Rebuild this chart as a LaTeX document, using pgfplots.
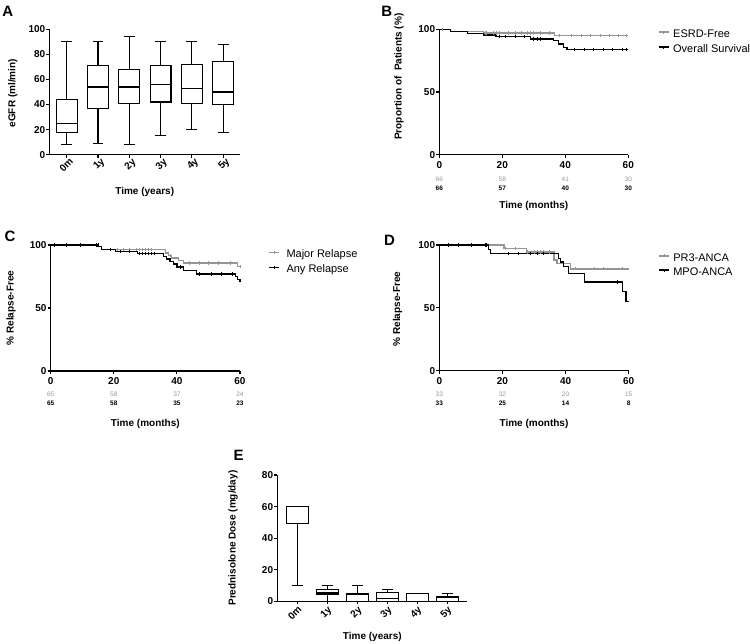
\documentclass[border=0pt]{standalone}
\usepackage{fontspec}
\setmainfont{Liberation Sans}
\usepackage{pgfplots}
\pgfplotsset{compat=1.18}
\usepgfplotslibrary{statistics}
\definecolor{kmgray}{RGB}{150,150,150}
\tikzset{
  nrg/.style={font=\fontsize{6.5}{7}\selectfont, text=kmgray},
  nrb/.style={font=\bfseries\fontsize{6.5}{7}\selectfont, text=black},
}
\pgfplotsset{
  gp/.style={scale only axis, anchor=south west,
    axis x line*=bottom, axis y line*=left,
    axis line style={line width=1.1pt},
    tick style={black, line width=1.1pt},
    tick align=outside, major tick length=3pt,
    tick label style={font=\bfseries\fontsize{10}{11}\selectfont},
    yticklabel style={inner sep=1pt},
    label style={font=\bfseries\fontsize{10}{11}\selectfont},
    /pgf/number format/assume math mode=true,
    clip=false},
  km/.style={gp, xmin=0, xmax=60, ymin=0, ymax=100,
    xtick={0,20,40,60}, ytick={0,50,100},
    xlabel={Time (months)},
    legend cell align=left,
    legend image code/.code={\draw[##1] (0pt,3pt)--(10pt,3pt); \draw[##1, line width=0.7pt] (5pt,1.5pt)--(5pt,4.5pt);},
    legend style={draw=none, fill=none, anchor=north west, inner sep=0pt,
      font=\fontsize{11}{12}\selectfont, row sep=5.7pt, column sep=3.7pt,
      nodes={inner sep=0pt, text height=7pt, text depth=2pt}}},
  kmblack/.style={black, line width=1.3pt, const plot},
  kmgrayl/.style={kmgray, line width=1.3pt, const plot},
  cb/.style={only marks, mark=|, mark size=1.6pt, black, mark options={line width=0.7pt}, forget plot},
  cg/.style={only marks, mark=|, mark size=1.6pt, kmgray, mark options={line width=0.7pt}, forget plot},
  bx/.style={black, line width=1.1pt, fill=none, boxplot/draw direction=y},
}
\begin{document}
\begin{tikzpicture}
% ---------------- A ----------------
\begin{axis}[gp, at={(49.5pt,489.3pt)}, width=190.5pt, height=125.4pt,
  xmin=-0.55, xmax=5.54, ymin=0, ymax=100, ytick={0,20,...,100},
  xtick={0,1,2,3,4,5}, xticklabels={0m,1y,2y,3y,4y,5y},
  xticklabel style={rotate=45, anchor=north east, inner sep=1pt, xshift=3pt},
  xlabel={Time (years)}, ylabel={eGFR (ml/min)},
  xlabel style={at={(axis description cs:0.5,-0.2975)}, anchor=center},
  ylabel style={at={(axis description cs:-0.193,0.49)}, anchor=center}]
\addplot[bx, boxplot prepared={draw position=0, lower whisker=8, lower quartile=18, median=25, upper quartile=44, upper whisker=90, box extend=0.67, whisker extend=0.35}] coordinates {};
\addplot[bx, boxplot prepared={draw position=1, lower whisker=9, lower quartile=37, median=54, upper quartile=71, upper whisker=90, box extend=0.67, whisker extend=0.35}] coordinates {};
\addplot[bx, boxplot prepared={draw position=2, lower whisker=8, lower quartile=41, median=54, upper quartile=68, upper whisker=94, box extend=0.67, whisker extend=0.35}] coordinates {};
\addplot[bx, boxplot prepared={draw position=3, lower whisker=15, lower quartile=42, median=56, upper quartile=71, upper whisker=90, box extend=0.67, whisker extend=0.35}] coordinates {};
\addplot[bx, boxplot prepared={draw position=4, lower whisker=20, lower quartile=41, median=53, upper quartile=72, upper whisker=90, box extend=0.67, whisker extend=0.35}] coordinates {};
\addplot[bx, boxplot prepared={draw position=5, lower whisker=18, lower quartile=40, median=50, upper quartile=74, upper whisker=88, box extend=0.67, whisker extend=0.35}] coordinates {};
\end{axis}
% ---------------- B ----------------
\begin{axis}[km, at={(439.3pt,489.3pt)}, width=189pt, height=125.4pt,
  ylabel={Proportion of\ \ Patients (\%)},
  xlabel style={at={(axis description cs:0.5,-0.41)}, anchor=center},
  ylabel style={at={(axis description cs:-0.213,0.622)}, anchor=center},
  legend style={at={(1.157,0.994)}}]
\addplot[kmgrayl] coordinates {(0,100) (3.5,98.5) (14,97) (36.5,95) (60,95)};
\addlegendentry{ESRD-Free}
\addplot[cg] coordinates {(1,100) (14.5,97) (15,97) (17,97) (18,97) (19,97) (22,97) (24,97) (26,97) (28,97) (29,97) (30,97) (32,97) (35,97) (38,95) (42,95) (45,95) (48,95) (51,95) (54,95) (57,95) (59.5,95)};
\addplot[kmblack] coordinates {(0,100) (3.5,98.5) (9,96.8) (14,95.5) (18,94) (29,92.3) (36.2,91) (37.8,88.3) (39.4,85.4) (40.5,83.8) (60,83.8)};
\addlegendentry{Overall Survival}
\addplot[cb] coordinates {(19,94) (21,94) (24,94) (27,94) (30,92.3) (31,92.3) (32,92.3) (43,83.8) (46,83.8) (49,83.8) (52,83.8) (55,83.8) (58,83.8) (59.5,83.8)};
\node[nrg, yshift=-24.3pt] at (axis cs:0,0) {66};
\node[nrg, yshift=-24.3pt] at (axis cs:20,0) {58};
\node[nrg, yshift=-24.3pt] at (axis cs:40,0) {41};
\node[nrg, yshift=-24.3pt] at (axis cs:60,0) {30};
\node[nrb, yshift=-34pt] at (axis cs:0,0) {66};
\node[nrb, yshift=-34pt] at (axis cs:20,0) {57};
\node[nrb, yshift=-34pt] at (axis cs:40,0) {40};
\node[nrb, yshift=-34pt] at (axis cs:60,0) {30};
\end{axis}
% ---------------- C ----------------
\begin{axis}[km, at={(50.7pt,273pt)}, width=189.3pt, height=126pt,
  ylabel={\% Relapse-Free},
  xlabel style={at={(axis description cs:0.5,-0.42)}, anchor=center},
  ylabel style={at={(axis description cs:-0.21,0.5)}, anchor=center},
  legend style={at={(1.148,0.958)}, column sep=7pt}]
\addplot[kmgrayl] coordinates {(0,100) (15,99) (16,96.5) (36.3,93.7) (37.3,91.8) (38.4,89.7) (40.5,87.6) (42,85.7) (59.3,83) (60,83)};
\addlegendentry{Major Relapse}
\addplot[cg] coordinates {(21,96.5) (23,96.5) (25,96.5) (27,96.5) (28,96.5) (29,96.5) (30,96.5) (31,96.5) (32,96.5) (38,91.8) (44,85.7) (47,85.7) (50,85.7) (53,85.7) (57,85.7) (60,83)};
\addplot[kmblack] coordinates {(0,100) (15,99) (16,96.5) (20.5,95) (27.5,93) (35.7,91) (36.8,89) (37.8,87) (38.9,85) (40,82.5) (42,79.5) (46.3,77) (58.5,75) (59.3,72.5) (60,70.5)};
\addlegendentry{Any Relapse}
\addplot[cb] coordinates {(1,100) (5,100) (9.5,100) (14.5,100) (15,100) (19,96.5) (22,95) (25,95) (28,93) (29,93) (30,93) (31,93) (32,93) (33,93) (41,82.5) (47,77) (51,77) (54,77) (57.5,77)};
\node[nrg, yshift=-23pt] at (axis cs:0,0) {65};
\node[nrg, yshift=-23pt] at (axis cs:20,0) {58};
\node[nrg, yshift=-23pt] at (axis cs:40,0) {37};
\node[nrg, yshift=-23pt] at (axis cs:60,0) {24};
\node[nrb, yshift=-32pt] at (axis cs:0,0) {65};
\node[nrb, yshift=-32pt] at (axis cs:20,0) {58};
\node[nrb, yshift=-32pt] at (axis cs:40,0) {35};
\node[nrb, yshift=-32pt] at (axis cs:60,0) {23};
\end{axis}
% ---------------- D ----------------
\begin{axis}[km, at={(439.3pt,273.3pt)}, width=189.4pt, height=125.7pt,
  ylabel={\% Relapse-Free},
  xlabel style={at={(axis description cs:0.5,-0.42)}, anchor=center},
  ylabel style={at={(axis description cs:-0.22,0.49)}, anchor=center},
  legend style={at={(1.155,0.929)}, row sep=4.7pt}]
\addplot[kmgrayl] coordinates {(0,100) (20.5,97) (27.7,94.4) (36.3,88) (37.3,85) (41.5,81) (60,81)};
\addlegendentry{PR3-ANCA}
\addplot[cg] coordinates {(21,97) (24,97) (28,94.4) (30,94.4) (31,94.4) (32,94.4) (33,94.4) (35,94.4) (43,81) (49,81) (52,81) (58,81)};
\addplot[kmblack] coordinates {(0,100) (15.5,96.5) (16.3,93) (37.7,89) (38.3,86.5) (39.3,83) (40.9,77.5) (46.1,70.5) (58.1,63) (59.1,55) (60,55)};
\addlegendentry{MPO-ANCA}
\addplot[cb] coordinates {(3,100) (6,100) (10,100) (14.5,100) (15,100) (22,93) (25,93) (29,93) (31,93) (33,93) (56.5,70.5)};
\node[nrg, yshift=-23.3pt] at (axis cs:0,0) {33};
\node[nrg, yshift=-23.3pt] at (axis cs:20,0) {32};
\node[nrg, yshift=-23.3pt] at (axis cs:40,0) {20};
\node[nrg, yshift=-23.3pt] at (axis cs:60,0) {15};
\node[nrb, yshift=-32.3pt] at (axis cs:0,0) {33};
\node[nrb, yshift=-32.3pt] at (axis cs:20,0) {25};
\node[nrb, yshift=-32.3pt] at (axis cs:40,0) {14};
\node[nrb, yshift=-32.3pt] at (axis cs:60,0) {8};
\end{axis}
% ---------------- E ----------------
\begin{axis}[gp, at={(277.3pt,42.7pt)}, width=190pt, height=126.3pt,
  xmin=-0.667, xmax=5.667, ymin=0, ymax=80, ytick={0,20,...,80},
  xtick={0,1,2,3,4,5}, xticklabels={0m,1y,2y,3y,4y,5y},
  xticklabel style={rotate=45, anchor=north east, inner sep=0.5pt},
  xlabel={Time (years)}, ylabel={Prednisolone Dose (mg/day)},
  xlabel style={at={(axis description cs:0.5,-0.285)}, anchor=center},
  ylabel style={at={(axis description cs:-0.233,0.5)}, anchor=center}]
\addplot[bx, boxplot prepared={draw position=0, lower whisker=10, lower quartile=49, median=60, upper quartile=60, upper whisker=60, box extend=0.72, whisker extend=0.37}] coordinates {};
\addplot[bx, boxplot prepared={draw position=1, lower whisker=0, lower quartile=4.6, median=5.8, upper quartile=7.2, upper whisker=10, box extend=0.72, whisker extend=0.37}] coordinates {};
\addplot[bx, boxplot prepared={draw position=2, lower whisker=0, lower quartile=0, median=4.2, upper quartile=5, upper whisker=10, box extend=0.72, whisker extend=0.37}] coordinates {};
\addplot[bx, boxplot prepared={draw position=3, lower whisker=0, lower quartile=0, median=2, upper quartile=5.5, upper whisker=7.5, box extend=0.72, whisker extend=0.37}] coordinates {};
\addplot[bx, boxplot prepared={draw position=4, lower whisker=0, lower quartile=0, median=5, upper quartile=5, upper whisker=5, box extend=0.72, whisker extend=0.37}] coordinates {};
\addplot[bx, boxplot prepared={draw position=5, lower whisker=0, lower quartile=0, median=2.5, upper quartile=3.2, upper whisker=5, box extend=0.72, whisker extend=0.37}] coordinates {};
\end{axis}
% ---------------- panel letters ----------------
\node[font=\bfseries\fontsize{15}{15}\selectfont] at (7.8pt,632.7pt) {A};
\node[font=\bfseries\fontsize{15}{15}\selectfont] at (386.7pt,632.7pt) {B};
\node[font=\bfseries\fontsize{15}{15}\selectfont] at (10pt,407.3pt) {C};
\node[font=\bfseries\fontsize{15}{15}\selectfont] at (389.5pt,404pt) {D};
\node[font=\bfseries\fontsize{15}{15}\selectfont] at (238.7pt,188.7pt) {E};
\pgfresetboundingbox
\path[use as bounding box] (0pt,0pt) rectangle (750pt,644pt);
\end{tikzpicture}
\end{document}
